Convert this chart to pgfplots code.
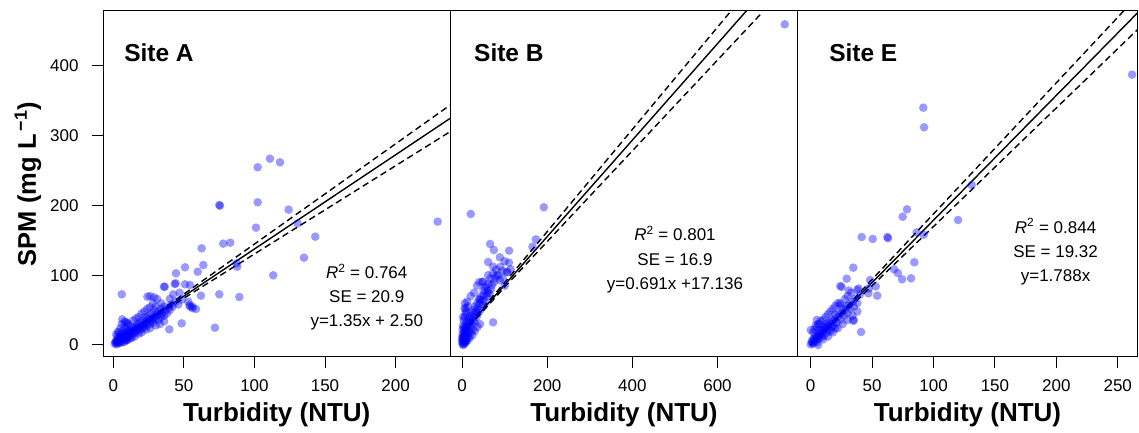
\documentclass[border=0pt]{standalone}
\usepackage{fontspec}
\setmainfont{Liberation Sans}
\usepackage{pgfplots}
\pgfplotsset{compat=1.18}

\pgfplotsset{
  panel/.style={
    scale only axis, height=346pt,
    ymin=-17.2, ymax=478.5,
    axis background/.style={fill=white},
    tick align=outside, major tick length=11pt,
    xtick pos=bottom, ytick pos=left,
    axis line style={line width=1pt},
    every tick/.style={black, line width=1pt},
    tick label style={font=\fontsize{17}{19}\selectfont},
    xticklabel style={yshift=-8pt},
    /pgf/number format/assume math mode=true,
    xlabel={Turbidity (NTU)},
    xlabel style={font=\fontsize{26}{29}\selectfont\bfseries, at={(axis description cs:0.5,-0.1676)}, anchor=center},
  },
}
\tikzset{
  pts/.style={only marks, mark=*, mark size=4.3pt, blue, fill opacity=0.4, draw opacity=0, mark options={draw=none, fill=blue, fill opacity=0.4, draw opacity=0}},
  fit/.style={black, line width=1.4pt},
  band/.style={black, line width=1.4pt, dash pattern=on 6.5pt off 4pt},
  ann/.style={font=\fontsize{17}{19}\selectfont, anchor=center},
  site/.style={font=\fontsize{24.5}{27}\selectfont\bfseries, anchor=west},
}

\begin{document}
\begin{tikzpicture}
\useasboundingbox (0,0) rectangle (1139pt,433pt);

% ---------------- Site A ----------------
\begin{axis}[panel, at={(103pt,76pt)}, anchor=south west, width=347.5pt,
  xmin=-7.3, xmax=238.9, xtick={0,50,100,150,200}, ytick={0,100,200,300,400},
  ylabel={SPM (mg L\textsuperscript{\,−1})},
  ylabel style={font=\fontsize{25.5}{28}\selectfont\bfseries, at={(axis description cs:-0.2158,0.5)}, anchor=center},
  yticklabel style={xshift=-10pt}]
\addplot[pts] coordinates {
(6.0,72.6) (72.0,24.8) (39.7,22.4) (48.4,31.0) (75.1,200.6) (75.6,199.5) (102.3,254.6) (111.0,266.9)
(118.1,261.7) (102.3,204.4) (124.2,193.9) (101.1,168.1) (130.6,174.3) (143.1,155.2) (135.1,125.1)
(113.3,99.8) (229.8,176.7) (77.9,145.2) (82.9,146.6) (87.4,117.0) (87.8,112.2) (89.3,68.8) (75.1,72.6)
(62.6,138.5) (63.8,114.6) (59.8,105.0) (50.8,111.3) (44.4,102.7) (35.9,83.5) (44.2,88.4) (50.8,86.9)
(54.3,86.0) (62.1,70.7) (54.3,54.9) (56.2,52.6) (58.6,51.6) (53.1,62.0) (26.0,70.2) (28.8,68.3)
(42.5,72.6) (48.4,65.0) (6.4,36.8) (8.9,33.0) (10,7) (24.1,69.2) (36.4,83.5) (43.5,87.4) (34,59.7)
(10.4,31) (3.3,19) (54.1,57.3) (56,55) (47,75) (40,66)
(1,2) (1.5,4) (2,3) (2,6) (2.5,1) (3,5) (3,8) (3.5,3) (4,7) (4,10) (4.5,4) (5,9) (5,13) (5.5,6)
(6,11) (6,16) (6.5,8) (7,12) (7,20) (7.5,9) (8,14) (8,25) (8.5,11) (9,15) (9,19) (10,12) (10,17)
(10,22) (11,14) (11,19) (12,16) (12,21) (12,27) (13,18) (13,14) (14,20) (14,25) (15,17) (15,22)
(16,19) (16,26) (17,24) (17,30) (18,21) (18,27) (19,25) (19,33) (20,23) (20,29) (21,27) (21,35)
(22,30) (22,25) (23,33) (23,40) (24,28) (24,36) (25,33) (25,42) (26,30) (26,38) (27,35) (27,45)
(28,37) (28,32) (29,40) (29,50) (30,38) (30,44) (31,42) (32,36) (32,48) (33,44) (34,40) (34,52)
(35,46) (36,42) (36,55) (37,50) (38,45) (39,53) (40,50) (41,58) (42,55) (44,62) (46,58) (6,30)
(8,33) (4,18) (3,12) (2,15) (5,24) (10,30) (14,35) (18,40) (20,45) (24,52) (26,54) (28,60) (30,55)
(31,66) (22,48) (16,38) (12,10) (15,12) (18,16) (20,18) (23,22) (26,24) (30,28) (33,30) (36,34)
(8,5) (10,8) (13,10) (5,3) (7,4) (9,7)
};
\addplot[fit] coordinates {(1,3.85) (239,325.15)};
\addplot[band] coordinates {(1,6.2) (20,31.0) (50,73.0) (100,144.6) (150,216.4) (200,288.2) (239,344.2)};
\addplot[band] coordinates {(1,1.5) (20,28.0) (50,67.0) (100,130.4) (150,193.6) (200,256.8) (239,306.1)};
\node[site] at (rel axis cs:0.051,0.88) {Site A};
\node[ann] at (rel axis cs:0.759,0.2465) {\textit{R}\textsuperscript{2} = 0.764};
\node[ann] at (rel axis cs:0.759,0.174) {SE = 20.9};
\node[ann] at (rel axis cs:0.759,0.099) {y=1.35x + 2.50};
\end{axis}

% ---------------- Site B ----------------
\begin{axis}[panel, at={(450.5pt,76pt)}, anchor=south west, width=347pt,
  xmin=-27.3, xmax=788, xtick={0,200,400,600}, ytick=\empty]
\addplot[pts] coordinates {
(758,459.4) (20.4,187.7) (192,197.3) (173.2,151.4) (165.4,140.8) (65.8,144.7) (74.5,136.1)
(110.4,135.1) (88.6,125.6) (61.1,118.9) (72.8,112.2) (61.1,100) (80.8,99.8) (95,95) (106,105)
(47,90.3) (53,82) (72.8,32.5) (6.3,59.7) (7.8,53) (41,65) (114,108.4) (49,90.7) (88.6,93)
(100,85) (60,74)
(0,5) (1,8) (2,3) (2,12) (3,6) (4,10) (4,18) (5,4) (5,14) (6,8) (6,22) (7,12) (8,16) (8,26) (9,6)
(10,20) (10,30) (11,10) (12,24) (12,34) (13,15) (14,28) (15,38) (15,12) (16,20) (17,32) (18,42)
(19,25) (20,36) (20,18) (22,30) (22,46) (24,40) (25,22) (26,35) (27,50) (28,44) (30,32) (30,55)
(32,48) (34,40) (35,60) (36,52) (38,46) (40,58) (40,66) (42,50) (44,62) (45,70) (48,56) (50,65)
(50,78) (52,72) (55,62) (56,84) (58,70) (60,78) (62,88) (64,74) (66,95) (68,80) (70,86) (72,102)
(75,90) (78,96) (80,108) (85,100) (90,112) (95,106) (100,120) (105,104) (110,118) (3,0) (1,1)
(6,2) (8,4) (12,6) (18,10) (24,14) (30,20) (36,26) (42,30) (2,28) (4,35) (8,45) (10,48) (14,55)
(4,25) (1,15) (0,10) (1,22) (2,40) (6,40) (6,52) (12,62) (20,70) (28,75) (35,85) (40,90)
};
\addplot[fit] coordinates {(0,17.136) (700,500.836)};
\addplot[band] coordinates {(0,19.1) (100,89.5) (200,162.5) (300,235.7) (400,308.9) (500,382.1) (600,455.3) (700,528.6)};
\addplot[band] coordinates {(0,15.2) (100,83.0) (200,148.2) (300,213.2) (400,278.2) (500,343.2) (600,408.2) (700,473.1)};
\node[site] at (rel axis cs:0.058,0.88) {Site B};
\node[ann] at (rel axis cs:0.647,0.3564) {\textit{R}\textsuperscript{2} = 0.801};
\node[ann] at (rel axis cs:0.647,0.2824) {SE = 16.9};
\node[ann] at (rel axis cs:0.647,0.2072) {y=0.691x +17.136};
\end{axis}

% ---------------- Site E ----------------
\begin{axis}[panel, at={(797.5pt,76pt)}, anchor=south west, width=340pt,
  xmin=-10.75, xmax=266.1, xtick={0,50,100,150,200,250}, ytick=\empty]
\addplot[pts] coordinates {
(261.7,387.3) (91.7,340) (92.3,311.9) (131.1,229.2) (120,179.1) (78.4,194.4) (74.9,183.8)
(41.5,154.7) (50.5,151.9) (62.4,154.7) (63,153) (86.3,161.4) (92,158) (84.4,118.5) (67.8,108.5)
(71,103) (74.4,94.1) (81.7,95.5) (34.7,110.8) (29.3,95.0) (25.2,83.1) (54.2,70.7) (47,74) (53,84)
(48.3,93.1) (41,18.6) (34.7,34.6) (33,75) (38,79) (24.1,84.5) (0,21.5) (5,36) (24,57)
(39,81) (31,78) (47.2,81) (35,36)
(0,1) (1,3) (1,6) (2,2) (2,8) (3,5) (3,10) (4,7) (4,13) (5,4) (5,10) (6,12) (6,18) (7,9) (7,14)
(8,16) (8,22) (9,12) (9,18) (10,20) (10,26) (11,14) (11,22) (12,24) (12,30) (13,18) (13,26) (14,28)
(15,22) (15,32) (16,30) (17,26) (17,36) (18,34) (19,28) (20,38) (20,44) (21,32) (22,40) (23,46)
(24,36) (25,45) (26,52) (27,42) (28,50) (29,56) (30,46) (31,58) (32,52) (34,62) (35,55) (36,66)
(38,60) (40,72) (2,18) (3,22) (4,28) (6,30) (8,34) (10,36) (12,40) (5,25) (7,30) (14,44) (16,48)
(18,52) (20,56) (22,60) (6,0) (10,8) (14,12) (18,18) (22,24) (26,30) (30,36) (34,42) (38,48)
(24,60) (28,66) (30,70) (20,24) (16,20)
};
\addplot[fit] coordinates {(0,0) (270,482.76)};
\addplot[band] coordinates {(0,0) (270,507.06)};
\addplot[band] coordinates {(0,0) (270,458.46)};
\node[site] at (rel axis cs:0.083,0.88) {Site E};
\node[ann] at (rel axis cs:0.759,0.3786) {\textit{R}\textsuperscript{2} = 0.844};
\node[ann] at (rel axis cs:0.759,0.3043) {SE = 19.32};
\node[ann] at (rel axis cs:0.759,0.2303) {y=1.788x};
\end{axis}
\end{tikzpicture}
\end{document}
